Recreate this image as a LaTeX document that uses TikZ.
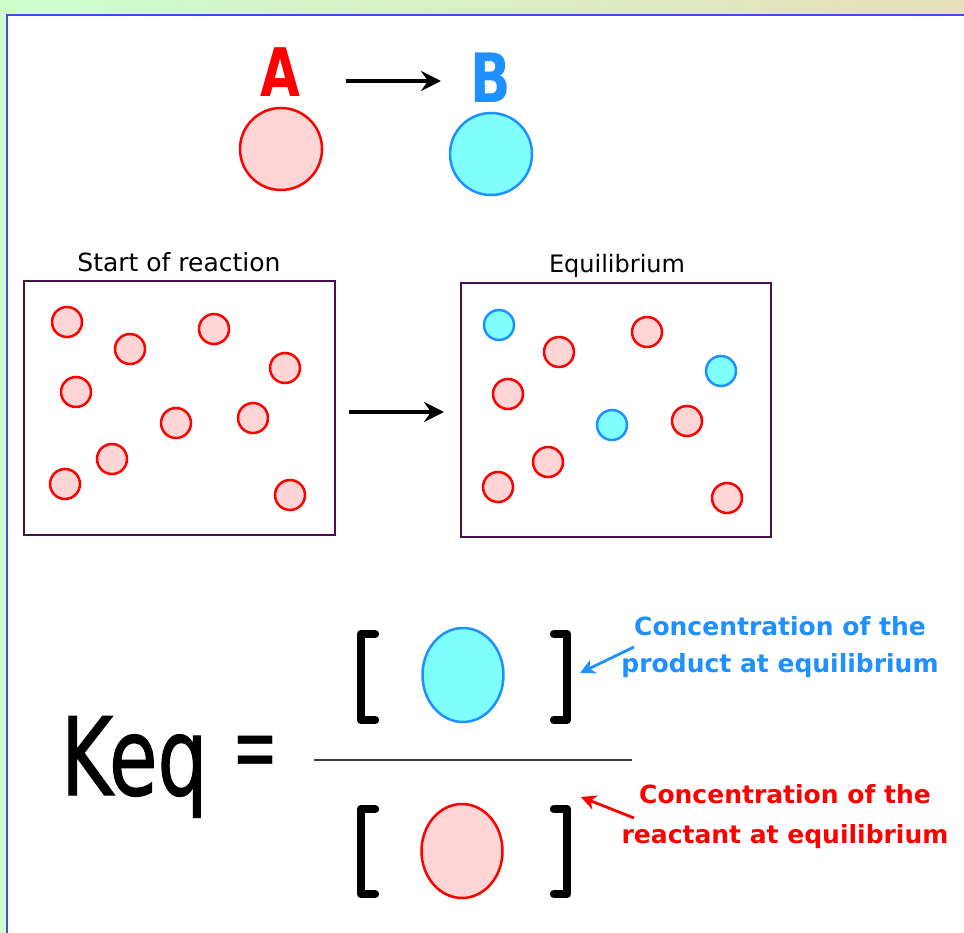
\documentclass[tikz,border=0pt]{standalone}
\usepackage{fontspec}
\setmainfont{DejaVu Sans}
\usetikzlibrary{arrows.meta,shapes.geometric}
\definecolor{rcol}{RGB}{255,0,0}
\definecolor{rfill}{RGB}{255,213,213}
\definecolor{bcol}{RGB}{30,144,255}
\definecolor{bfill}{RGB}{128,255,255}
\definecolor{boxcol}{RGB}{72,16,72}
\definecolor{frameblue}{RGB}{72,72,230}
\definecolor{framegreen}{RGB}{204,255,204}
\definecolor{framegold}{RGB}{232,224,184}
\begin{document}
\begin{tikzpicture}[x=1pt,y=-1pt,
  redmol/.style={circle,draw=rcol,fill=rfill,line width=2.5pt,minimum size=30pt,inner sep=0pt},
  bluemol/.style={circle,draw=bcol,fill=bfill,line width=2.5pt,minimum size=30pt,inner sep=0pt},
  bigmol/.style={circle,line width=2.5pt,minimum size=82pt,inner sep=0pt},
  ellmol/.style={ellipse,line width=2.5pt,minimum width=81pt,minimum height=94pt,inner sep=0pt},
  reactbox/.style={draw=boxcol,line width=2.6pt},
  bigarrow/.style={line width=3.3pt,-{Stealth[length=20pt,width=20pt,inset=7pt]}},
  labarrow/.style={line width=2.8pt,-{Stealth[length=15pt,width=15pt,inset=4.5pt]}},
  bracket/.style={line width=8.4pt,line cap=round,line join=round},
  lab/.style={inner sep=0pt,anchor=base,font=\fontsize{25}{30}\selectfont\bfseries},
  captxt/.style={inner sep=0pt,anchor=base,text=black}
]
\useasboundingbox (0,0) rectangle (964,933);
% frame
\fill[framegreen] (0,0) rectangle (964,933);
\shade[left color=framegreen,right color=framegold] (0,0) rectangle (964,14);
\fill[white] (7,15) rectangle (964,933);
\draw[frameblue,line width=2.2pt] (7,933) -- (7,15) -- (964,15);

% A -> B
\node[inner sep=0pt,anchor=base,text=rcol,font=\fontsize{67}{70}\selectfont\bfseries] (lA) at (280,97) {\scalebox{0.77}[1]{A}};
\node[inner sep=0pt,anchor=base,text=bcol,font=\fontsize{68}{70}\selectfont\bfseries] (lB) at (491,103) {\scalebox{0.78}[1]{B}};
\coordinate (ab1) at (346,81);
\coordinate (ab2) at (441,81);
\draw[bigarrow] (ab1) -- (ab2);
\node[bigmol,draw=rcol,fill=rfill] (molA) at (281,149) {};
\node[bigmol,draw=bcol,fill=bfill] (molB) at (491,154) {};

% boxes
\node[captxt,font=\fontsize{25}{30}\selectfont] (tstart) at (179,272) {Start of reaction};
\node[captxt,font=\fontsize{24}{28}\selectfont] (tequil) at (617,273) {Equilibrium};
\draw[reactbox] (24,281) rectangle (335,535);
\draw[reactbox] (461,283) rectangle (771,537);
\coordinate (bx1) at (349,412);
\coordinate (bx2) at (444,412);
\draw[bigarrow] (bx1) -- (bx2);

\node[redmol] (s1) at (67,322) {};
\node[redmol] (s2) at (130,349) {};
\node[redmol] (s3) at (214,329) {};
\node[redmol] (s4) at (285,368) {};
\node[redmol] (s5) at (76,392) {};
\node[redmol] (s6) at (176,423) {};
\node[redmol] (s7) at (253,418) {};
\node[redmol] (s8) at (112,459) {};
\node[redmol] (s9) at (65,484) {};
\node[redmol] (s10) at (290,495) {};

\node[bluemol] (e1) at (499,325) {};
\node[redmol] (e2) at (559,352) {};
\node[redmol] (e3) at (647,332) {};
\node[bluemol] (e4) at (721,371) {};
\node[redmol] (e5) at (508,394) {};
\node[bluemol] (e6) at (612,425) {};
\node[redmol] (e7) at (687,421) {};
\node[redmol] (e8) at (548,462) {};
\node[redmol] (e9) at (498,487) {};
\node[redmol] (e10) at (727,498) {};

% Keq expression
\node[inner sep=0pt,anchor=base west,font=\fontsize{108}{110}\selectfont\addfontfeature{FakeBold=1.2}] (keq) at (61,795) {\scalebox{0.73}[1]{Keq}};
\node[inner sep=0pt,anchor=center,font=\fontsize{100}{110}\selectfont] (eq) at (255.5,759) {\scalebox{0.55}[1]{=}};
\coordinate (fr1) at (314,760);
\coordinate (fr2) at (632,760);
\draw[line width=2.5pt,black!75] (fr1) -- (fr2);

\draw[bracket] (375,634) -- (361,634) -- (361,720) -- (375,720);
\draw[bracket] (554,634) -- (567,634) -- (567,720) -- (554,720);
\draw[bracket] (375,809) -- (361,809) -- (361,894) -- (375,894);
\draw[bracket] (554,809) -- (567,809) -- (567,894) -- (554,894);
\node[ellmol,draw=bcol,fill=bfill] (prod) at (463,675) {};
\node[ellmol,draw=rcol,fill=rfill] (react) at (462,851) {};

% labels
\node[lab,text=bcol] (b1) at (780,635) {Concentration of the};
\node[lab,text=bcol] (b2) at (780,672) {product at equilibrium};
\node[lab,text=rcol] (r1) at (785,803) {Concentration of the};
\node[lab,text=rcol] (r2) at (785,843) {reactant at equilibrium};
\coordinate (pa1) at (634,647);
\coordinate (pa2) at (580,673);
\coordinate (ra1) at (634,818);
\coordinate (ra2) at (581,797);
\draw[labarrow,bcol] (pa1) -- (pa2);
\draw[labarrow,rcol] (ra1) -- (ra2);
\end{tikzpicture}
\end{document}
